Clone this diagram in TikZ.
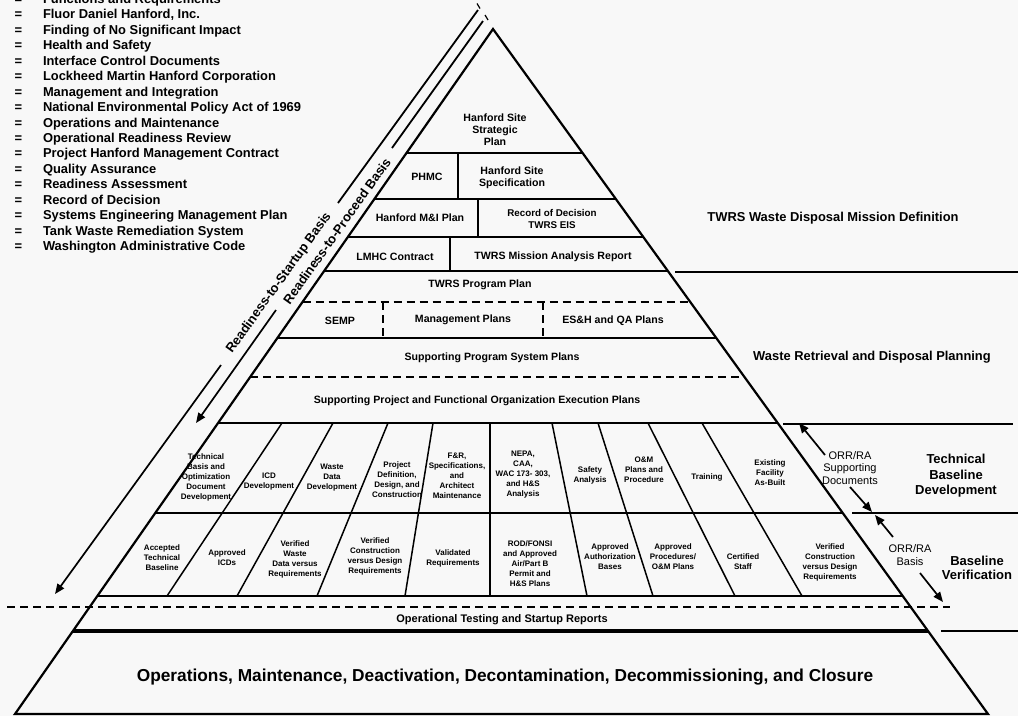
\documentclass[tikz,border=0pt]{standalone}
\usepackage{fontspec}
\setmainfont{Liberation Sans}
\usetikzlibrary{calc,arrows.meta}
\definecolor{paper}{RGB}{248,248,248}
\begin{document}
\begin{tikzpicture}[x=1pt,y=-1pt,
  every node/.style={inner sep=0pt, outer sep=0pt},
  lgd/.style={font=\fontsize{12.9}{15}\selectfont\bfseries},
  side/.style={font=\fontsize{12.9}{15}\selectfont\bfseries, align=center},
  sidebig/.style={font=\fontsize{13}{15.5}\selectfont\bfseries, align=center},
  inner/.style={font=\fontsize{10.6}{12}\selectfont\bfseries, align=center},
  cell/.style={font=\fontsize{8}{10}\selectfont\bfseries, align=center},
  orr/.style={font=\fontsize{11}{12.5}\selectfont, align=center},
  ready/.style={font=\fontsize{13}{15}\selectfont\bfseries},
  pyr/.style={line width=2.2pt, line join=miter},
  rule/.style={line width=1.8pt},
  thickrule/.style={line width=3.6pt},
  dashrule/.style={line width=1.8pt, dash pattern=on 8pt off 5pt},
  divider/.style={line width=1.5pt},
  arr/.style={line width=1.7pt, -{Triangle[length=10pt,width=8pt]}},
]
\fill[paper] (0,0) rectangle (1018,716);
\useasboundingbox (0,0) rectangle (1018,716);

% ---------- legend of abbreviations ----------
\foreach \t [count=\i from 0] in {Functions and Requirements,
  {Fluor Daniel Hanford, Inc.}, Finding of No Significant Impact,
  Health and Safety, Interface Control Documents,
  Lockheed Martin Hanford Corporation, Management and Integration,
  National Environmental Policy Act of 1969, Operations and Maintenance,
  Operational Readiness Review, Project Hanford Management Contract,
  Quality Assurance, Readiness Assessment, Record of Decision,
  Systems Engineering Management Plan, Tank Waste Remediation System,
  Washington Administrative Code}{
  \node[lgd, anchor=base] (eq\i) at (18.5,{3.5+15.44*\i}) {=};
  \node[lgd, anchor=base west] (lg\i) at (43,{3.5+15.44*\i}) {\t};
}

% ---------- pyramid outline ----------
\coordinate (A) at (493,29);
\coordinate (BL) at (15,714);
\coordinate (BR) at (988,714);
\draw[pyr] (A) -- (BR) -- (BL) -- cycle;

% level boundaries, clipped to the two sides
\foreach \n/\y in {s1/153,s2/199,s3/237,s4/271,d1/302,s5/338,d2/377,s6/423,s7/513,s8/596,s9/631}{
  \coordinate (L\n) at ($(A)!{(\y-29)/685}!(BL)$);
  \coordinate (R\n) at ($(A)!{(\y-29)/685}!(BR)$);
}
\foreach \n in {s1,s2,s3,s4,s5,s6,s7,s8}{\draw[rule] (L\n) -- (R\n);}
\draw[dashrule] (Ld1) -- (Rd1);
\draw[dashrule] (Ld2) -- (Rd2);
\draw[thickrule] (Ls9) -- (Rs9);

% splits inside the upper levels
\draw[rule] (458,153) -- (458,199);
\draw[rule] (478,199) -- (478,237);
\draw[rule] (450,237) -- (450,271);
\draw[dashrule] (383,302) -- (383,338);
\draw[dashrule] (543,302) -- (543,338);

% slanted columns of the two baseline levels
\foreach \a/\b in {282/167,333/237,388/317,433/405,552/587,598/653,648/735,702/802}{
  \draw[divider] (\a,423) -- (\b,596);
}
\draw[rule] (490,423) -- (490,596);

% dashed startup boundary and side separators
\draw[dashrule] (7,607) -- (950,607);
\draw[rule] (675,272) -- (1018,272);
\draw[rule] (783,424) -- (1013,424);
\draw[rule] (852,513) -- (1018,513);
\draw[rule] (941,631) -- (1018,631);

% ---------- upper levels ----------
\node[inner] (strat) at (495,130) {Hanford Site\\Strategic\\Plan};
\node[inner] (phmc) at (427,177) {PHMC};
\node[inner] (hss) at (512,178) {Hanford Site\\Specification};
\node[inner] (mi) at (420,218) {Hanford M\&I Plan};
\node[inner, font=\fontsize{9.8}{12}\selectfont\bfseries] (rod) at (552,219) {Record of Decision\\TWRS EIS};
\node[inner] (lmhc) at (395,257) {LMHC Contract};
\node[inner] (mar) at (553,257) {TWRS Mission Analysis Report};
\node[inner] (tpp) at (480,285) {TWRS Program Plan};
\node[inner] (semp) at (340,321) {SEMP};
\node[inner] (mgmt) at (463,320) {Management Plans};
\node[inner] (esh) at (613,321) {ES\&H and QA Plans};
\node[inner] (spsp) at (492,358) {Supporting Program System Plans};
\node[inner] (spfo) at (477,401) {Supporting Project and Functional Organization Execution Plans};

% ---------- technical baseline development ----------
\node[cell] (t1) at (206,477) {Technical\\Basis and\\Optimization\\Document\\Development};
\node[cell] (t2) at (269,482) {ICD\\Development};
\node[cell] (t3) at (332,478) {Waste\\Data\\Development};
\node[cell] (t4) at (397,480) {Project\\Definition,\\Design, and\\Construction};
\node[cell] (t5) at (457,476) {F\&R,\\Specifications,\\and\\Architect\\Maintenance};
\node[cell] (t6) at (523,475) {NEPA,\\CAA,\\WAC 173- 303,\\and H\&S\\Analysis};
\node[cell] (t7) at (590,475) {Safety\\Analysis};
\node[cell] (t8) at (644,470) {O\&M\\Plans and\\Procedure};
\node[cell] (t9) at (707,477) {Training};
\node[cell] (t10) at (770,473) {Existing\\Facility\\As-Built};

% ---------- baseline verification ----------
\node[cell] (v1) at (162,558) {Accepted\\Technical\\Baseline};
\node[cell] (v2) at (227,558) {Approved\\ICDs};
\node[cell] (v3) at (295,559) {Verified\\Waste\\Data versus\\Requirements};
\node[cell] (v4) at (375,556) {Verified\\Construction\\versus Design\\Requirements};
\node[cell] (v5) at (453,558) {Validated\\Requirements};
\node[cell] (v6) at (530,564) {ROD/FONSI\\and Approved\\Air/Part B\\Permit and\\H\&S Plans};
\node[cell] (v7) at (610,557) {Approved\\Authorization\\Bases};
\node[cell] (v8) at (673,557) {Approved\\Procedures/\\O\&M Plans};
\node[cell] (v9) at (743,562) {Certified\\Staff};
\node[cell] (v10) at (830,562) {Verified\\Construction\\versus Design\\Requirements};

% ---------- bottom levels ----------
\node[font=\fontsize{11}{13}\selectfont\bfseries] (otsr) at (502,620) {Operational Testing and Startup Reports};
\node[font=\fontsize{17.3}{20}\selectfont\bfseries] (ops) at (505,677) {Operations, Maintenance, Deactivation, Decontamination, Decommissioning, and Closure};

% ---------- level names on the right ----------
\node[side] (mission) at (833,218) {TWRS Waste Disposal Mission Definition};
\node[side] (planning) at (872,357) {Waste Retrieval and Disposal Planning};
\node[sidebig] (tbd) at (956,476) {Technical\\Baseline\\Development};
\node[sidebig, font=\fontsize{13}{14.5}\selectfont\bfseries] (bver) at (977,568) {Baseline\\Verification};

% ---------- ORR/RA references ----------
\node[orr] (orrsd) at (850,468) {ORR/RA\\Supporting\\Documents};
\node[orr, font=\fontsize{11}{13}\selectfont] (orrb) at (910,555) {ORR/RA\\Basis};
\coordinate (a1s) at (825,455); \coordinate (a1e) at (799,423);
\coordinate (a2s) at (850,487); \coordinate (a2e) at (872,512);
\coordinate (a3s) at (893,537); \coordinate (a3e) at (875,515);
\coordinate (a4s) at (920,573); \coordinate (a4e) at (943,602);
\draw[arr] (a1s) -- (a1e);
\draw[arr] (a2s) -- (a2e);
\draw[arr] (a3s) -- (a3e);
\draw[arr] (a4s) -- (a4e);

% ---------- readiness bases along the left side ----------
\coordinate (su0) at (478,10);  \coordinate (su1) at (338,203);
\coordinate (su2) at (221,365); \coordinate (su3) at (55,594);
\coordinate (pr0) at (483,21);  \coordinate (pr1) at (392,148);
\coordinate (pr2) at (276,310); \coordinate (pr3) at (196,423);
\draw[line width=1.2pt] (477,3.5) -- (480,8.5);
\draw[line width=1.2pt] (485,15) -- (488,20);
\draw[rule] (su0) -- (su1);
\draw[arr] (su2) -- (su3);
\draw[rule] (pr0) -- (pr1);
\draw[arr] (pr2) -- (pr3);
\node[ready, rotate=54.2] (startup) at (279,283) {Readiness-to-Startup Basis};
\node[ready, rotate=54.6] (proceed) at (337,231) {Readiness-to-Proceed Basis};
\end{tikzpicture}
\end{document}
